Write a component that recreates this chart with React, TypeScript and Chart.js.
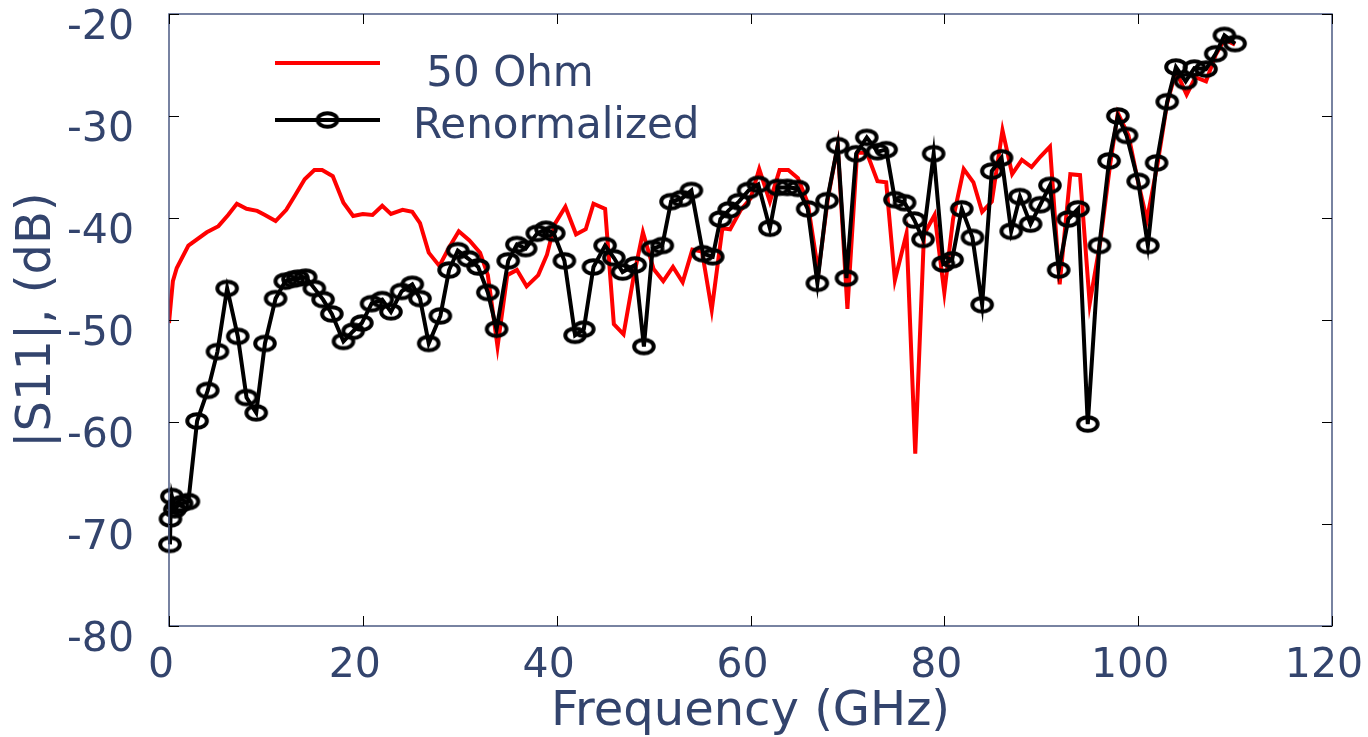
import React, { useEffect, useRef } from "react";
import { Chart, registerables } from "chart.js";

Chart.register(...registerables);

// ---- data ----
const freq50 = [
  0, 0.2, 0.4, 0.8, 2.0, 3.9, 5.1, 6.1, 7.0, 8.0, 9.1, 9.9, 11.0, 12.1, 13.0, 14.0, 15.0, 15.8, 16.9,
  18.0, 19.0, 20.0, 21.0, 22.0, 22.9, 24.1, 25.1, 25.9, 26.8, 27.9, 28.9, 29.9, 31.0, 32.1, 32.9,
  33.9, 34.9, 35.9, 36.9, 38.1, 39.0, 39.8, 40.9, 42.0, 43.0, 43.8, 45.0, 45.9, 46.9, 47.9, 48.9,
  50.0, 51.0, 52.0, 53.0, 54.0, 55.0, 56.0, 57.1, 57.9, 59.0, 60.0, 60.9, 62.0, 63.0, 63.9, 64.9,
  65.9, 67.0, 68.0, 69.0, 70.0, 71.0, 72.0, 73.1, 74.0, 74.9, 76.1, 77.0, 77.9, 79.0, 80.0, 80.9,
  82.0, 83.0, 83.9, 84.9, 86.0, 87.0, 88.0, 89.0, 89.9, 90.9, 91.9, 93.0, 94.0, 95.0, 96.1, 97.1,
  97.9, 99.0, 100.0, 100.9, 102.0, 103.0, 103.9, 105.0, 105.9, 107.0, 108.0, 108.9, 110.0,
];
const s11_50 = [
  -50.3, -48.2, -46.2, -44.9, -42.7, -41.4, -40.8, -39.7, -38.6, -39.1, -39.3, -39.7, -40.3, -39.2,
  -37.8, -36.2, -35.3, -35.3, -35.9, -38.5, -39.8, -39.6, -39.7, -38.8, -39.6, -39.2, -39.4, -40.5,
  -43.4, -44.7, -42.9, -41.3, -42.2, -43.4, -45.6, -52.6, -45.6, -45.1, -46.7, -45.6, -43.6, -40.6,
  -38.9, -41.6, -41.1, -38.6, -39.1, -50.4, -51.4, -46.0, -41.4, -45.0, -46.2, -44.8, -46.3, -43.1,
  -43.3, -49.0, -41.0, -41.1, -39.2, -38.1, -35.2, -38.4, -35.3, -35.3, -36.1, -38.5, -45.3, -38.0,
  -32.9, -48.9, -33.6, -33.6, -36.4, -36.5, -46.1, -41.5, -63.1, -41.6, -39.7, -47.3, -40.1, -35.2,
  -36.5, -39.4, -38.4, -31.4, -35.7, -34.3, -35.0, -34.0, -33.0, -46.5, -35.7, -35.8, -48.4, -42.3,
  -34.8, -29.7, -31.9, -36.5, -40.2, -34.7, -28.7, -25.6, -27.9, -26.2, -26.6, -24.0, -22.5, -23.0,
];

const freqRenorm = [
  0.1, 0.15, 0.3, 0.6, 0.9, 1.3, 2.0, 2.9, 4.0, 5.0, 6.0, 7.1, 8.0, 9.0, 9.9, 11.0, 12.0, 12.8,
  13.3, 14.1, 15.0, 15.9, 16.8, 18.0, 19.0, 19.9, 20.9, 22.0, 22.9, 24.0, 25.1, 25.9, 26.8, 28.0,
  28.9, 29.8, 30.9, 31.9, 32.9, 33.8, 35.0, 35.9, 36.8, 38.0, 38.9, 39.7, 40.8, 41.9, 42.8, 43.8,
  45.0, 45.9, 46.8, 48.1, 49.0, 49.9, 50.9, 51.8, 52.9, 53.9, 55.1, 56.1, 56.9, 57.8, 58.8, 59.8,
  60.8, 62.0, 62.8, 63.8, 64.9, 65.9, 66.9, 67.9, 69.0, 69.9, 70.9, 72.0, 73.1, 74.0, 74.9, 75.9,
  76.9, 77.8, 78.9, 79.9, 80.8, 81.8, 82.9, 83.9, 84.9, 85.9, 86.9, 87.8, 88.9, 89.9, 90.9, 91.8,
  92.8, 93.8, 94.8, 96.0, 97.0, 97.9, 98.8, 100.0, 101.0, 101.9, 103.0, 103.9, 104.9, 105.8, 107.0,
  108.0, 108.9, 110.0,
];
const s11Renorm = [
  -72.0, -69.5, -67.3, -68.6, -68.2, -68.0, -67.8, -59.9, -56.9, -53.1, -46.9, -51.6, -57.6, -59.1,
  -52.3, -47.9, -46.2, -46.0, -45.9, -45.8, -46.9, -48.0, -49.4, -52.1, -51.1, -50.3, -48.4, -48.0,
  -49.2, -47.2, -46.5, -47.9, -52.3, -49.6, -45.1, -43.2, -44.0, -44.8, -47.3, -50.9, -44.2, -42.6,
  -43.0, -41.5, -41.1, -41.5, -44.2, -51.5, -50.9, -44.8, -42.7, -43.9, -45.3, -44.6, -52.6, -43.0,
  -42.7, -38.4, -38.1, -37.3, -43.5, -43.8, -40.1, -39.2, -38.4, -37.3, -36.7, -41.0, -37.0, -37.0,
  -37.1, -39.1, -46.4, -38.3, -32.9, -45.9, -33.7, -32.1, -33.5, -33.3, -38.2, -38.5, -40.2, -42.1,
  -33.7, -44.5, -44.1, -39.1, -41.9, -48.5, -35.4, -34.1, -41.3, -37.9, -40.6, -38.7, -36.8, -45.1,
  -40.1, -39.1, -60.2, -42.7, -34.4, -30.0, -31.9, -36.4, -42.7, -34.6, -28.6, -25.2, -26.6, -25.3,
  -25.4, -23.9, -22.1, -22.9,
];

const seriesLabels = [" 50 Ohm", "Renormalized"];
const xTickValues = [0, 20, 40, 60, 80, 100, 120];
const yTickValues = [-80, -70, -60, -50, -40, -30, -20];

const TEXT = "#33446d";
const FONT = "'DejaVu Sans', Verdana, sans-serif";

function makeMarker(): HTMLCanvasElement {
  const c = document.createElement("canvas");
  c.width = 26;
  c.height = 20;
  const g = c.getContext("2d")!;
  g.strokeStyle = "#000";
  g.lineWidth = 4;
  g.beginPath();
  g.ellipse(13, 10, 9.8, 6.8, 0, 0, Math.PI * 2);
  g.stroke();
  return c;
}

export default function App() {
  const ref = useRef<HTMLCanvasElement>(null);

  useEffect(() => {
    document.body.style.margin = "0";
    const marker = makeMarker();

    const frame = {
      id: "frameAndLegend",
      afterDatasetsDraw(chart: any) {
        const { ctx, chartArea: a, scales } = chart;
        ctx.save();
        // box
        ctx.strokeStyle = "#4b5a82";
        ctx.lineWidth = 1.5;
        ctx.strokeRect(a.left, a.top, a.right - a.left, a.bottom - a.top);
        // inward ticks
        ctx.strokeStyle = "#000";
        ctx.lineWidth = 1;
        const tl = 10;
        ctx.beginPath();
        for (const v of xTickValues) {
          const px = Math.round(scales.x.getPixelForValue(v)) + 0.5;
          ctx.moveTo(px, a.bottom);
          ctx.lineTo(px, a.bottom - tl);
          ctx.moveTo(px, a.top);
          ctx.lineTo(px, a.top + tl);
        }
        for (const v of yTickValues) {
          const py = Math.round(scales.y.getPixelForValue(v)) + 0.5;
          ctx.moveTo(a.left, py);
          ctx.lineTo(a.left + tl, py);
          ctx.moveTo(a.right, py);
          ctx.lineTo(a.right - tl, py);
        }
        ctx.stroke();

        // legend
        const ds = chart.data.datasets;
        const lx0 = a.left + 106;
        const lx1 = a.left + 211;
        const tx = a.left + 244;
        ctx.font = `42px ${FONT}`;
        ctx.fillStyle = TEXT;
        ctx.textBaseline = "alphabetic";
        ctx.textAlign = "left";
        // 50 Ohm
        ctx.strokeStyle = ds[1].borderColor;
        ctx.lineWidth = ds[1].borderWidth;
        ctx.beginPath();
        ctx.moveTo(lx0, a.top + 49);
        ctx.lineTo(lx1, a.top + 49);
        ctx.stroke();
        ctx.fillText(ds[1].label, tx, a.top + 72);
        // Renormalized
        ctx.strokeStyle = ds[0].borderColor;
        ctx.lineWidth = ds[0].borderWidth;
        ctx.beginPath();
        ctx.moveTo(lx0, a.top + 106);
        ctx.lineTo(lx1, a.top + 106);
        ctx.stroke();
        ctx.drawImage(marker, (lx0 + lx1) / 2 - 13, a.top + 106 - 10);
        ctx.fillText(ds[0].label, tx, a.top + 124);
        ctx.restore();
      },
    };

    const chart = new Chart(ref.current!, {
      type: "line",
      data: {
        datasets: [
          {
            label: seriesLabels[1],
            data: freqRenorm.map((x, i) => ({ x, y: s11Renorm[i] })),
            borderColor: "#000000",
            borderWidth: 4,
            pointStyle: marker as any,
            pointRadius: 10,
            pointHoverRadius: 10,
            clip: false as any,
            order: 0,
          },
          {
            label: seriesLabels[0],
            data: freq50.map((x, i) => ({ x, y: s11_50[i] })),
            borderColor: "#ff0000",
            borderWidth: 4,
            pointRadius: 0,
            order: 1,
          },
        ],
      },
      options: {
        animation: false,
        responsive: false,
        events: [],
        layout: { padding: { left: 0, top: 11, right: 36, bottom: 0 } },
        plugins: { legend: { display: false }, tooltip: { enabled: false } },
        scales: {
          x: {
            type: "linear",
            min: 0,
            max: 120,
            grid: { display: false },
            border: { display: false },
            afterFit(scale: any) {
              scale.height = 111;
              scale.paddingLeft = 0;
              scale.paddingRight = 0;
            },
            afterBuildTicks(scale: any) {
              scale.ticks = xTickValues.map((v) => ({ value: v }));
            },
            ticks: {
              color: TEXT,
              font: { family: FONT, size: 41 },
              padding: 8,
              labelOffset: -8,
              maxRotation: 0,
              autoSkip: false,
            },
            title: {
              display: true,
              text: "Frequency (GHz)",
              color: TEXT,
              font: { family: FONT, size: 48 },
              padding: { top: 0, bottom: -4 },
            },
          },
          y: {
            type: "linear",
            min: -80,
            max: -20,
            grid: { display: false },
            border: { display: false },
            afterFit(scale: any) {
              scale.width = 169;
              scale.paddingTop = 0;
              scale.paddingBottom = 0;
            },
            afterBuildTicks(scale: any) {
              scale.ticks = yTickValues.map((v) => ({ value: v }));
            },
            ticks: {
              color: TEXT,
              font: { family: FONT, size: 41 },
              padding: 27,
              labelOffset: 14,
              autoSkip: false,
            },
            title: {
              display: true,
              text: "|S11|, (dB)",
              color: TEXT,
              font: { family: FONT, size: 48 },
              padding: { top: 9, bottom: 0 },
            },
          },
        },
      },
      plugins: [frame],
    });
    return () => chart.destroy();
  }, []);

  return (
    <div style={{ width: 1368, height: 737, background: "#fff" }}>
      <canvas ref={ref} width={1368} height={737} style={{ display: "block" }} />
    </div>
  );
}
